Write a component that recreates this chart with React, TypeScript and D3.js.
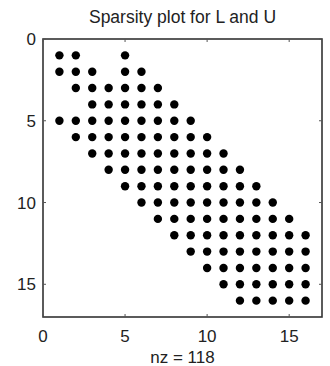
import React from 'react';
import * as d3 from 'd3';

// row index -> column indices of nonzero entries (MATLAB spy, 1-based)
const rowIndex = [1, 2, 3, 4, 5, 6, 7, 8, 9, 10, 11, 12, 13, 14, 15, 16];
const rowCols = [
  [1, 2, 5],
  [1, 2, 3, 5, 6],
  [2, 3, 4, 5, 6, 7],
  [3, 4, 5, 6, 7, 8],
  [1, 2, 3, 4, 5, 6, 7, 8, 9],
  [2, 3, 4, 5, 6, 7, 8, 9, 10],
  [3, 4, 5, 6, 7, 8, 9, 10, 11],
  [4, 5, 6, 7, 8, 9, 10, 11, 12],
  [5, 6, 7, 8, 9, 10, 11, 12, 13],
  [6, 7, 8, 9, 10, 11, 12, 13, 14],
  [7, 8, 9, 10, 11, 12, 13, 14, 15],
  [8, 9, 10, 11, 12, 13, 14, 15, 16],
  [9, 10, 11, 12, 13, 14, 15, 16],
  [10, 11, 12, 13, 14, 15, 16],
  [11, 12, 13, 14, 15, 16],
  [12, 13, 14, 15, 16],
];
const tickValues = [0, 5, 10, 15];
const axisDomain = [0, 17];
const title = 'Sparsity plot for L and U';

export default function App() {
  const width = 330;
  const height = 366;
  const left = 43;
  const right = 322;
  const top = 39;
  const bottom = 317;

  const x = d3.scaleLinear().domain(axisDomain).range([left, right]);
  const y = d3.scaleLinear().domain(axisDomain).range([top, bottom]);

  const points = rowIndex.flatMap((r, i) => rowCols[i].map((c) => ({ r, c })));
  const font = 'Liberation Sans, Arial, sans-serif';
  const ink = '#222';

  return (
    <svg
      width={width}
      height={height}
      style={{ position: 'absolute', left: 0, top: 0, background: '#fff' }}
      fontFamily={font}
    >
      <text x={(left + right) / 2} y={23} textAnchor="middle" fontSize={17.5} fill={ink}>
        {title}
      </text>

      {/* frame */}
      <rect
        x={left}
        y={top}
        width={right - left}
        height={bottom - top}
        fill="none"
        stroke="#333"
        strokeWidth={1.6}
      />

      {/* ticks */}
      {tickValues.map((t) => (
        <g key={'x' + t}>
          <line x1={x(t)} x2={x(t)} y1={bottom} y2={bottom - 3} stroke="#555" />
          <line x1={x(t)} x2={x(t)} y1={top} y2={top + 3} stroke="#555" />
          <text x={x(t)} y={342} textAnchor="middle" fontSize={17} fill={ink}>
            {t}
          </text>
        </g>
      ))}
      {tickValues.map((t) => (
        <g key={'y' + t}>
          <line x1={left} x2={left + 3} y1={y(t)} y2={y(t)} stroke="#555" />
          <line x1={right} x2={right - 3} y1={y(t)} y2={y(t)} stroke="#555" />
          <text x={36} y={y(t) + 6} textAnchor="end" fontSize={17} fill={ink}>
            {t}
          </text>
        </g>
      ))}

      {points.map((p, i) => (
        <circle key={i} cx={x(p.c)} cy={y(p.r)} r={4.2} fill="#000" />
      ))}

      <text x={(left + right) / 2} y={363} textAnchor="middle" fontSize={17} fill={ink}>
        {`nz = ${points.length}`}
      </text>
    </svg>
  );
}
